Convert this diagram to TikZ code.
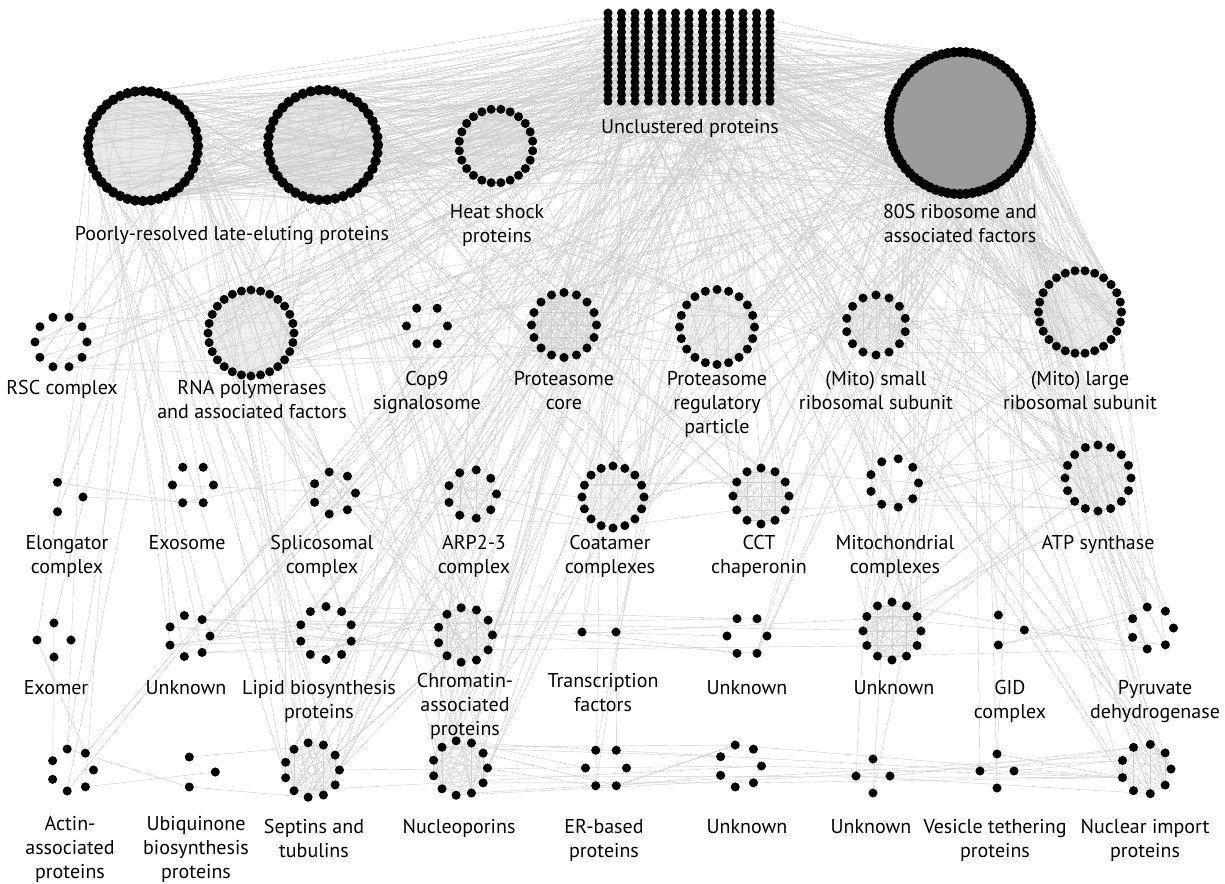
\documentclass[tikz,border=0pt]{standalone}
\usepackage{fontspec}
\setmainfont{PT Sans}
\pgfdeclarelayer{background}
\pgfsetlayers{background,main}

\tikzset{
  dot/.style={circle,fill=black,inner sep=0pt,minimum size=6.8pt},
  bigdot/.style={dot,minimum size=7.8pt},
  edge/.style={draw=gray!40,line width=0.3pt},
  chord/.style={draw=gray!35,line width=0.2pt},
  faintchord/.style={draw=gray!18,line width=0.2pt},
  lbl/.style={anchor=north,inner sep=0pt,align=center,font=\fontsize{15}{18}\selectfont}
}

% ring of proteins: name, x, y, radius, count, start angle
\newcommand{\ring}[6]{%
  \foreach \i in {1,...,#5}
    \node[dot] (#1-\i) at ({#2+#4*cos(#6+360*(\i-1)/#5)},{#3-#4*sin(#6+360*(\i-1)/#5)}) {};
}
% all edges inside one cluster
\newcommand{\web}[3][chord]{%
  \begin{pgfonlayer}{background}
  \foreach \i in {1,...,#3}
    \foreach \j in {\i,...,#3}
      \draw[#1] (#2-\i.center) -- (#2-\j.center);
  \end{pgfonlayer}
}

\begin{document}
\begin{tikzpicture}[x=0.75pt,y=0.75pt,yscale=-1]
\useasboundingbox (0,0) rectangle (1225,883);

%Unclustered proteins
\foreach \c in {0,...,12}
  \foreach \r in {0,...,14}{
    \pgfmathtruncatemacro\k{\c*15+\r+1}
    \node[dot] (uc-\k) at ({608+13.5*\c},{13+6.3*\r}) {};
  }

%Top row
\fill[gray!78] (960,123) circle (70);
\foreach \i in {1,...,72}
  \node[bigdot] (r80-\i) at ({960+71*cos(5*(\i-1))},{123-71*sin(5*(\i-1))}) {};
\foreach \i in {1,...,44}
  \node[bigdot] (pr1-\i) at ({143+55*cos(360*(\i-1)/44)},{146-55*sin(360*(\i-1)/44)}) {};
\foreach \i in {1,...,42}
  \node[bigdot] (pr2-\i) at ({323+55*cos(360*(\i-1)/42)},{145-55*sin(360*(\i-1)/42)}) {};
\ring{hs}{496}{146}{37}{24}{7.5}

%Second row
\ring{rsc}{61}{342}{26}{10}{0}
\ring{rnap}{251}{333}{43}{28}{0}
\ring{cop}{427}{326}{20.5}{6}{0}
\ring{pcore}{564}{325}{32.5}{16}{0}
\ring{preg}{717}{327}{37.5}{20}{0}
\ring{mitos}{876}{325}{30}{14}{90}
\ring{mitol}{1080}{312}{41.5}{26}{0}

%Third row
\ring{elo}{66}{497}{17}{3}{0}
\ring{exo}{193}{485}{20.5}{6}{0}
\ring{spl}{334}{493}{21.5}{7}{0}
\ring{arp}{472}{494}{24.5}{9}{0}
\ring{coat}{613}{497}{31}{16}{0}
\ring{cct}{761}{496}{28}{12}{0}
\ring{mitoc}{894}{483}{24.5}{9}{0}
\ring{atp}{1098}{478}{33}{16}{0}

%Fourth row
\ring{exom}{54}{640}{17}{4}{0}
\ring{unkA}{189}{636}{21}{7}{0}
\ring{lip}{326}{633}{26.5}{10}{18}
\ring{chrom}{465}{635}{27.5}{11}{0}
\node[dot] (tf-1) at (582,632) {};
\node[dot] (tf-2) at (616,632) {};
\ring{unkB}{747}{636}{20}{6}{0}
\ring{unkC}{892}{631}{29}{12}{0}
\ring{gid}{1007}{630}{17.3}{3}{0}
\ring{pyr}{1152}{628}{21.5}{7}{0}

%Fifth row
\ring{act}{72}{770}{21.5}{7}{0}
\ring{ubi}{198}{772}{17.3}{3}{0}
\ring{sep}{312}{770}{27.5}{11}{0}
\ring{nup}{460}{768}{27.5}{11}{0}
\ring{er}{606}{768}{20.5}{6}{0}
\ring{unkD}{740}{766}{21.5}{7}{0}
\ring{unkE}{873}{776}{17}{4}{0}
\ring{ves}{997}{771}{17}{4}{0}
\ring{nuc}{1146}{769}{25}{9}{0}

%Edges inside clusters
\web[faintchord]{pr1}{44}
\web[faintchord]{pr2}{42}
\web[faintchord]{hs}{24}
\web[faintchord]{rnap}{28}
\web{pcore}{16}
\web[faintchord]{preg}{20}
\web{mitos}{14}
\web[faintchord]{mitol}{26}
\web{spl}{7}
\web{arp}{9}
\web[faintchord]{coat}{16}
\web{cct}{12}
\web[faintchord]{atp}{16}
\web{chrom}{11}
\web{sep}{11}
\web{nup}{11}
\web{nuc}{9}
\web{unkC}{12}

%Edges between clusters
\pgfmathsetseed{2718}
\begin{pgfonlayer}{background}
\foreach \a/\na/\b/\nb/\n in {uc/195/r80/72/90, uc/195/pr1/44/40, uc/195/pr2/42/50, pr1/44/pr2/42/70,
    pr2/42/hs/24/25, pr1/44/hs/24/10, uc/195/hs/24/15, pr1/44/r80/72/12, pr2/42/r80/72/15, hs/24/r80/72/10,
    r80/72/mitol/26/70, r80/72/mitos/14/25, uc/195/mitol/26/10, uc/195/mitos/14/10, mitos/14/mitol/26/8,
    r80/72/atp/16/12, mitol/26/atp/16/10, uc/195/rnap/28/20, pr1/44/rnap/28/10, pr2/42/rnap/28/12,
    r80/72/rnap/28/15, rsc/10/rnap/28/5, rsc/10/pr1/44/3, rsc/10/uc/195/3, uc/195/pcore/16/12,
    uc/195/preg/20/14, r80/72/preg/20/10, r80/72/pcore/16/6, hs/24/pcore/16/4, pr2/42/preg/20/6,
    uc/195/cop/6/3, uc/195/cct/12/8, uc/195/coat/16/10, uc/195/chrom/11/8, uc/195/nup/11/10,
    uc/195/sep/11/8, uc/195/lip/10/6, uc/195/arp/9/6, uc/195/spl/7/5, uc/195/mitoc/9/5,
    uc/195/atp/16/8, uc/195/er/6/4, uc/195/tf/2/3, uc/195/unkC/12/6, uc/195/nuc/9/6,
    pr1/44/exo/6/3, pr1/44/unkA/7/5, pr1/44/act/7/4, pr1/44/sep/11/6, pr1/44/spl/7/5,
    pr1/44/lip/10/5, pr1/44/elo/3/2, pr1/44/exom/4/2, pr2/42/arp/9/5, pr2/42/chrom/11/5,
    pr2/42/nup/11/6, pr2/42/coat/16/6, pr2/42/cct/12/5, r80/72/mitoc/9/6, r80/72/pyr/7/6,
    r80/72/nuc/9/6, r80/72/unkC/12/6, r80/72/gid/3/3, r80/72/coat/16/6, r80/72/cct/12/8,
    r80/72/unkB/6/4, r80/72/ves/4/3, r80/72/unkE/4/3, mitol/26/pyr/7/4, mitol/26/mitoc/9/4,
    atp/16/mitoc/9/6, atp/16/pyr/7/5, atp/16/unkC/12/4, mitoc/9/unkC/12/3, unkA/7/lip/10/4,
    unkA/7/chrom/11/3, unkA/7/unkC/12/3, lip/10/chrom/11/4, lip/10/unkB/6/3, chrom/11/nup/11/4,
    chrom/11/sep/11/3, nup/11/er/6/3, nup/11/nuc/9/4, nup/11/unkD/7/3, er/6/unkD/7/3,
    unkD/7/nuc/9/3, ves/4/nuc/9/3, unkE/4/nuc/9/2, sep/11/unkD/7/2, act/7/ubi/3/2,
    act/7/exom/4/2, ubi/3/sep/11/2, elo/3/exo/6/2, exo/6/spl/7/2, spl/7/arp/9/3,
    arp/9/coat/16/3, coat/16/cct/12/4, cct/12/mitoc/9/3, unkC/12/pyr/7/3, gid/3/pyr/7/2,
    tf/2/unkB/6/2, pcore/16/preg/20/6, preg/20/mitos/14/5, cop/6/pcore/16/2, rnap/28/pcore/16/4,
    rnap/28/sep/11/4, rnap/28/chrom/11/4, mitos/14/atp/16/5, preg/20/coat/16/3, preg/20/nup/11/3,
    hs/24/sep/11/3, hs/24/nup/11/3, uc/195/unkA/7/3, uc/195/act/7/2}
  \foreach \e in {1,...,\n}{
    \pgfmathrandominteger{\ia}{1}{\na}
    \pgfmathrandominteger{\ib}{1}{\nb}
    \draw[edge] (\a-\ia) -- (\b-\ib);
  }
\end{pgfonlayer}

% Labels
\node[lbl] (l-uc) at (690,119) {Unclustered proteins};
\node[lbl] (l-pr) at (232,226) {Poorly-resolved late-eluting proteins};
\node[lbl] (l-hs) at (497,204) {Heat shock\\proteins};
\node[lbl] (l-r80) at (960,204) {80S ribosome and\\associated factors};
\node[lbl] (l-rsc) at (62,380) {RSC complex};
\node[lbl] (l-rnap) at (252,380) {RNA polymerases\\and associated factors};
\node[lbl] (l-cop) at (427,371) {Cop9\\signalosome};
\node[lbl] (l-pcore) at (564,371) {Proteasome\\core};
\node[lbl] (l-preg) at (717,371) {Proteasome\\regulatory\\particle};
\node[lbl] (l-mitos) at (876,371) {(Mito) small\\ribosomal subunit};
\node[lbl] (l-mitol) at (1080,371) {(Mito) large\\ribosomal subunit};
\node[lbl] (l-elo) at (67,535) {Elongator\\complex};
\node[lbl] (l-exo) at (187,535) {Exosome};
\node[lbl] (l-spl) at (322,535) {Splicosomal\\complex};
\node[lbl] (l-arp) at (474,535) {ARP2-3\\complex};
\node[lbl] (l-coat) at (610,535) {Coatamer\\complexes};
\node[lbl] (l-cct) at (759,535) {CCT\\chaperonin};
\node[lbl] (l-mitoc) at (895,535) {Mitochondrial\\complexes};
\node[lbl] (l-atp) at (1098,535) {ATP synthase};
\node[lbl] (l-exom) at (56,680) {Exomer};
\node[lbl] (l-unkA) at (186,680) {Unknown};
\node[lbl] (l-lip) at (319,680) {Lipid biosynthesis\\proteins};
\node[lbl] (l-chrom) at (465,673) {Chromatin-\\associated\\proteins};
\node[lbl] (l-tf) at (603,673) {Transcription\\factors};
\node[lbl] (l-unkB) at (747,680) {Unknown};
\node[lbl] (l-unkC) at (894,680) {Unknown};
\node[lbl] (l-gid) at (1010,680) {GID\\complex};
\node[lbl] (l-pyr) at (1155,680) {Pyruvate\\dehydrogenase};
\node[lbl] (l-act) at (70,816) {Actin-\\associated\\proteins};
\node[lbl] (l-ubi) at (196,816) {Ubiquinone\\biosynthesis\\proteins};
\node[lbl] (l-sep) at (314,819) {Septins and\\tubulins};
\node[lbl] (l-nup) at (459,819) {Nucleoporins};
\node[lbl] (l-er) at (604,819) {ER-based\\proteins};
\node[lbl] (l-unkD) at (747,819) {Unknown};
\node[lbl] (l-unkE) at (871,819) {Unknown};
\node[lbl] (l-ves) at (995,819) {Vesicle tethering\\proteins};
\node[lbl] (l-nuc) at (1145,819) {Nuclear import\\proteins};
\end{tikzpicture}
\end{document}
